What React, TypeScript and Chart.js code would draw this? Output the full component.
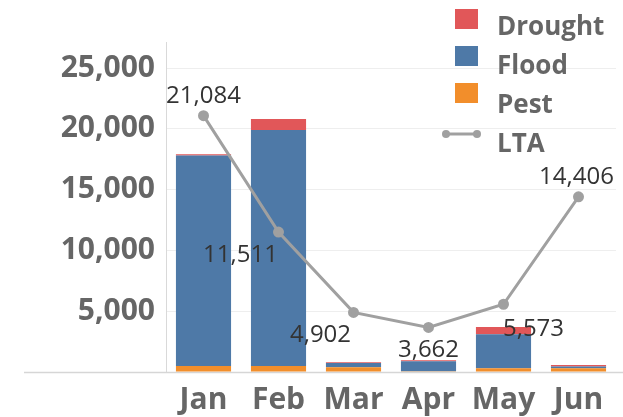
import React, { useEffect, useRef } from 'react';
import { Chart, registerables } from 'chart.js';

Chart.register(...registerables);

const months = ['Jan', 'Feb', 'Mar', 'Apr', 'May', 'Jun'];
const pest = [500, 500, 400, 60, 300, 300];
const flood = [17300, 19400, 350, 820, 2800, 150];
const drought = [100, 900, 60, 80, 600, 120];
const lta = [21084, 11511, 4902, 3662, 5573, 14406];
const yTickValues = [0, 5000, 10000, 15000, 20000, 25000];
const yMax = 27140;

const COLORS = {
  drought: '#e15759',
  flood: '#4e79a7',
  pest: '#f28e2b',
  lta: '#a0a0a0',
};

const fmt = (v: number) => v.toLocaleString('en-US');

const ltaLabelPlugin = {
  id: 'ltaLabels',
  afterDatasetsDraw(chart: any) {
    const offsets: number[][] = [[0, -19], [-38, 23], [-33, 23], [0, 23], [30, 25], [-2, -20]];
    const idx = chart.data.datasets.findIndex((d: any) => d.type === 'line');
    if (idx < 0) return;
    const meta = chart.getDatasetMeta(idx);
    const ctx = chart.ctx;
    ctx.save();
    ctx.font = '24px "Open Sans"';
    ctx.fillStyle = '#333';
    ctx.textAlign = 'center';
    ctx.textBaseline = 'middle';
    meta.data.forEach((pt: any, i: number) => {
      const v = chart.data.datasets[idx].data[i];
      const o = offsets[i] || [0, -20];
      ctx.fillText(fmt(v), pt.x + o[0], pt.y + o[1]);
    });
    ctx.restore();
  },
};

const axisLinePlugin = {
  id: 'axisLine',
  beforeDatasetsDraw(chart: any) {
    const ctx = chart.ctx;
    const y = chart.chartArea.bottom + 0.5;
    ctx.save();
    ctx.strokeStyle = '#d6d6d6';
    ctx.lineWidth = 1.5;
    ctx.beginPath();
    ctx.moveTo(24, y);
    ctx.lineTo(chart.width, y);
    ctx.stroke();
    ctx.restore();
  },
};

const legendPlugin = {
  id: 'customLegend',
  afterDraw(chart: any) {
    const ctx = chart.ctx;
    const order = ['Drought', 'Flood', 'Pest', 'LTA'];
    const symTops = [9, 46, 83, 0];
    const baselines = [35, 74, 113, 152];
    ctx.save();
    order.forEach((name, i) => {
      const ds = chart.data.datasets.find((d: any) => d.label === name);
      if (!ds) return;
      if (ds.type === 'line') {
        const y = 134;
        ctx.strokeStyle = ds.borderColor;
        ctx.lineWidth = 3;
        ctx.beginPath();
        ctx.moveTo(446, y);
        ctx.lineTo(477, y);
        ctx.stroke();
        ctx.fillStyle = ds.borderColor;
        [446, 477].forEach((x) => {
          ctx.beginPath();
          ctx.arc(x, y, 4, 0, Math.PI * 2);
          ctx.fill();
        });
      } else {
        ctx.fillStyle = ds.backgroundColor;
        ctx.fillRect(455, symTops[i], 23, 20);
      }
      ctx.fillStyle = '#666';
      ctx.font = 'bold 26px "Open Sans"';
      ctx.textAlign = 'left';
      ctx.textBaseline = 'alphabetic';
      ctx.fillText(name, 497, baselines[i]);
    });
    ctx.restore();
  },
};

export default function App() {
  const ref = useRef<HTMLCanvasElement>(null);
  useEffect(() => {
    if (!ref.current) return;
    const chart = new Chart(ref.current, {
      type: 'bar',
      data: {
        labels: months,
        datasets: [
          {
            type: 'line',
            label: 'LTA',
            data: lta,
            borderColor: COLORS.lta,
            backgroundColor: COLORS.lta,
            pointBackgroundColor: COLORS.lta,
            pointBorderColor: COLORS.lta,
            borderWidth: 3,
            pointRadius: 4,
            tension: 0,
            order: 0,
          } as any,
          {
            type: 'bar',
            label: 'Pest',
            data: pest,
            backgroundColor: COLORS.pest,
            order: 1,
          },
          {
            type: 'bar',
            label: 'Flood',
            data: flood,
            backgroundColor: COLORS.flood,
            order: 1,
          },
          {
            type: 'bar',
            label: 'Drought',
            data: drought,
            backgroundColor: COLORS.drought,
            order: 1,
          },
        ],
      },
      options: {
        animation: false,
        responsive: false,
        maintainAspectRatio: false,
        layout: { padding: { top: 42, right: 0, left: 0, bottom: 0 } },
        datasets: {
          bar: { barPercentage: 0.735, categoryPercentage: 1 },
        },
        plugins: {
          legend: { display: false },
          tooltip: { enabled: false },
        },
        scales: {
          x: {
            stacked: true,
            grid: { display: false, drawTicks: false },
            border: { display: false },
            ticks: {
              color: '#666',
              font: { family: '"Open Sans"', size: 30, weight: 'bold' },
              padding: 10,
            },
            afterFit(scale: any) {
              scale.height = 45;
            },
          },
          y: {
            stacked: true,
            min: 0,
            max: yMax,
            grid: { color: '#eeeeee', drawTicks: false },
            border: { display: true, color: '#d9d9d9', width: 1 },
            ticks: {
              color: '#666',
              font: { family: '"Open Sans"', size: 30, weight: 'bold' },
              padding: 11,
              callback: (v: any) => (v === 0 ? '' : fmt(Number(v))),
            },
            afterBuildTicks(scale: any) {
              scale.ticks = yTickValues.map((v) => ({ value: v }));
            },
            afterFit(scale: any) {
              scale.width = 166;
            },
          },
        },
      },
      plugins: [axisLinePlugin, ltaLabelPlugin, legendPlugin],
    });
    return () => chart.destroy();
  }, []);
  return (
    <div style={{ position: 'fixed', left: 0, top: 0, width: 623, height: 417, background: '#fff' }}>
      <canvas ref={ref} width={623} height={417} style={{ display: 'block' }} />
    </div>
  );
}
